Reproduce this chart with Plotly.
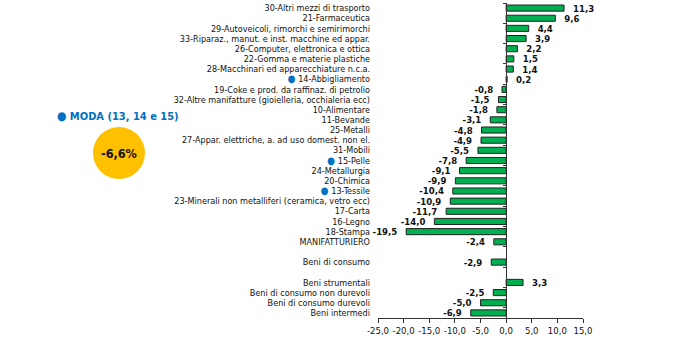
import plotly.graph_objects as go

# Sector names, top to bottom (blank entries are spacer rows)
categories = [
    "30-Altri mezzi di trasporto",
    "21-Farmaceutica",
    "29-Autoveicoli, rimorchi e semirimorchi",
    "33-Riparaz., manut. e inst. macchine ed appar.",
    "26-Computer, elettronica e ottica",
    "22-Gomma e materie plastiche",
    "28-Macchinari ed apparecchiature n.c.a.",
    "14-Abbigliamento",
    "19-Coke e prod. da raffinaz. di petrolio",
    "32-Altre manifatture (gioielleria, occhialeria ecc)",
    "10-Alimentare",
    "11-Bevande",
    "25-Metalli",
    "27-Appar. elettriche, a. ad uso domest. non el.",
    "31-Mobili",
    "15-Pelle",
    "24-Metallurgia",
    "20-Chimica",
    "13-Tessile",
    "23-Minerali non metalliferi (ceramica, vetro ecc)",
    "17-Carta",
    "16-Legno",
    "18-Stampa",
    "MANIFATTURIERO",
    " ",
    "Beni di consumo",
    "  ",
    "Beni strumentali",
    "Beni di consumo non durevoli",
    "Beni di consumo durevoli",
    "Beni intermedi",
]

values = [
    11.3, 9.6, 4.4, 3.9, 2.2, 1.5, 1.4, 0.2, -0.8, -1.5, -1.8, -3.1,
    -4.8, -4.9, -5.5, -7.8, -9.1, -9.9, -10.4, -10.9, -11.7, -14.0, -19.5,
    -2.4, None, -2.9, None, 3.3, -2.5, -5.0, -6.9,
]

# Fashion sectors highlighted with a blue dot
moda_sectors = ["14-Abbigliamento", "15-Pelle", "13-Tessile"]
moda_label = "MODA (13, 14 e 15)"
moda_value = -6.6

x_ticks = [-25, -20, -15, -10, -5, 0, 5, 10, 15]

BLUE = "#0070C0"
GREEN = "#00B050"
FONT = "DejaVu Sans Condensed, Liberation Sans Narrow, sans-serif"
NBSP = "\u00a0"

def fmt(v):
    return "" if v is None else f"{v:.1f}".replace(".", ",")

def bar_label(v):
    # keep a small gap between the bar end and its value
    if v is None:
        return ""
    return NBSP * 2 + fmt(v) if v >= 0 else fmt(v) + NBSP * 2

tick_text = []
for c in categories:
    if c in moda_sectors:
        tick_text.append(f"<span style='color:{BLUE};font-size:10px'>●</span>{NBSP}{c}")
    else:
        tick_text.append(c)

fig = go.Figure()
fig.add_trace(go.Bar(
    x=values, y=categories, orientation="h",
    marker=dict(color=GREEN, line=dict(color="#222222", width=1)),
    text=[bar_label(v) for v in values], textposition="outside",
    constraintext="none",
    textfont=dict(family=FONT, size=9.5, color="#111111", weight="bold"),
    cliponaxis=False, hoverinfo="skip",
))
# Invisible trace carrying the vertical axis drawn at zero
fig.add_trace(go.Scatter(
    x=[0] * len(categories), y=categories, yaxis="y2",
    mode="markers", marker=dict(opacity=0), showlegend=False, hoverinfo="skip",
))

x_min, x_max = x_ticks[0], x_ticks[-1]
zero_pos = (0 - x_min) / (x_max - x_min)
y_range = [len(categories) - 0.5, -0.5]

fig.update_layout(
    width=700, height=341,
    margin=dict(l=378, r=117, t=3, b=23, autoexpand=False),
    paper_bgcolor="white", plot_bgcolor="white",
    showlegend=False, bargap=0.4,
    font=dict(family=FONT, size=9, color="#111111"),
    xaxis=dict(
        range=[x_min, x_max], tickvals=x_ticks,
        ticktext=[fmt(float(t)) for t in x_ticks],
        showgrid=False, zeroline=False,
        showline=True, linecolor="#333333", linewidth=1,
        ticks="outside", ticklen=4, tickcolor="#333333",
        tickfont=dict(size=9.5), tickangle=0, automargin=False,
    ),
    yaxis=dict(
        categoryorder="array", categoryarray=categories,
        range=y_range, autorange=False,
        tickvals=categories, ticktext=tick_text,
        showgrid=False, zeroline=False, showline=False, ticks="",
        tickfont=dict(size=9), automargin=False,
        ticklabelstandoff=7,
    ),
    yaxis2=dict(
        overlaying="y", matches="y", anchor="free", position=zero_pos,
        categoryorder="array", categoryarray=categories,
        range=y_range, autorange=False,
        side="left", showticklabels=False, showgrid=False, zeroline=False,
        showline=True, linecolor="#333333", linewidth=1,
        ticks="outside", ticklen=3, tickcolor="#333333",
        tickson="boundaries", automargin=False,
    ),
)

# Plot-area geometry in pixels, used to place the side panel
plot_left, plot_w = 378, 205
plot_bottom, plot_h = 318, 315

def px_x(x):
    return (x - plot_left) / plot_w

def px_y(y):
    return (plot_bottom - y) / plot_h

fig.add_annotation(
    xref="paper", yref="paper", x=px_x(55), y=px_y(116),
    xanchor="left", yanchor="middle", showarrow=False,
    text=f"<span style='font-size:12px'>●</span> {moda_label}",
    font=dict(family=FONT, size=11, color=BLUE, weight="bold"),
)
fig.add_shape(
    type="circle", xref="paper", yref="paper",
    xsizemode="pixel", ysizemode="pixel",
    xanchor=px_x(119), yanchor=px_y(153),
    x0=-26, x1=26, y0=-26, y1=26,
    fillcolor="#FFC000", line=dict(width=0),
)
fig.add_annotation(
    xref="paper", yref="paper", x=px_x(119), y=px_y(153),
    xanchor="center", yanchor="middle", showarrow=False,
    text=fmt(moda_value) + "%",
    font=dict(family=FONT, size=12.5, color="#111111", weight="bold"),
)

fig.write_html("out.html")
